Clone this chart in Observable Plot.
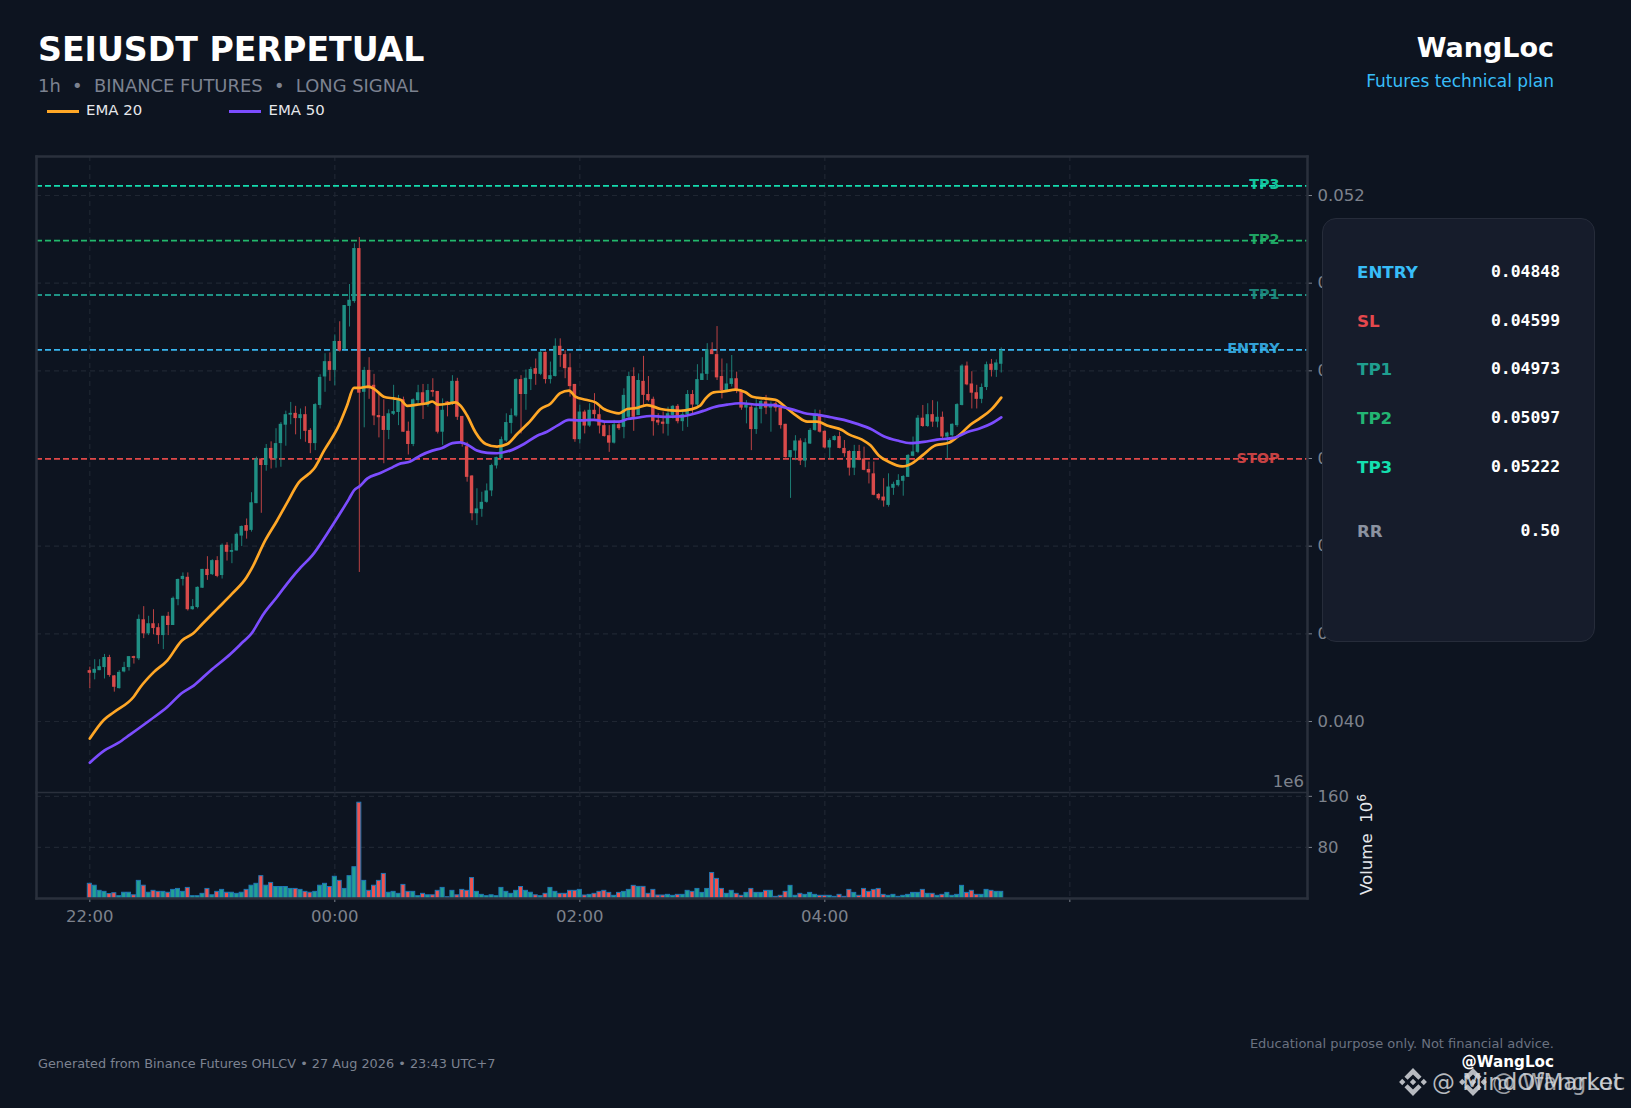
<!DOCTYPE html>
<html>
<head>
<meta charset="utf-8">
<script src="https://cdn.jsdelivr.net/npm/d3@7"></script>
<script src="https://cdn.jsdelivr.net/npm/@observablehq/plot@0.6"></script>
<style>
html,body{margin:0;padding:0;background:#0d1420;}
body{position:relative;width:1631px;height:1108px;overflow:hidden;font-family:"DejaVu Sans",sans-serif;}
.t{position:absolute;white-space:pre;line-height:1;transform:translateY(-50%);}
.r{text-align:right;}
svg{position:absolute;left:0;overflow:visible;}
#panel{position:absolute;left:1322px;top:217.5px;width:273px;height:424px;background:#161c2b;border:1.5px solid #262c3a;border-radius:14px;box-sizing:border-box;}
</style>
</head>
<body>
<div id="root"></div>
<script>
// prices are given in units of 0.00001 USDT, volume in millions
const priceUnit = 1e-5;
const open = [4116,4110,4116,4123,4146,4104,4075,4113,4123,4148,
4143,4232,4200,4223,4214,4196,4240,4219,4278,4324,
4329,4255,4260,4304,4347,4335,4367,4333,4402,4386,
4389,4423,4447,4436,4497,4599,4584,4623,4599,4634,
4676,4699,4703,4691,4700,4664,4634,4721,4786,4821,
4801,4867,4849,4947,4958,5079,4751,4801,4767,4698,
4696,4664,4701,4705,4734,4662,4632,4732,4750,4721,
4755,4753,4660,4729,4725,4776,4696,4627,4560,4474,
4484,4500,4526,4583,4600,4640,4680,4697,4780,4746,
4780,4805,4792,4842,4780,4787,4856,4837,4807,4769,
4643,4706,4674,4710,4700,4675,4652,4635,4677,4671,
4694,4787,4698,4776,4746,4735,4687,4683,4678,4698,
4719,4684,4700,4746,4722,4778,4792,4848,4837,4787,
4755,4769,4782,4755,4715,4717,4666,4712,4729,4715,
4725,4715,4678,4602,4617,4640,4594,4633,4664,4698,
4662,4624,4641,4650,4623,4616,4578,4616,4599,4575,
4565,4518,4512,4493,4532,4538,4548,4557,4605,4614,
4692,4673,4700,4683,4694,4649,4652,4675,4721,4811,
4770,4750,4735,4762,4815,4801,4815];
const high = [4124,4141,4141,4153,4151,4105,4116,4135,4148,4149,
4243,4262,4240,4255,4223,4240,4249,4284,4325,4339,
4339,4278,4307,4347,4376,4369,4376,4405,4408,4405,
4430,4446,4462,4522,4603,4600,4632,4638,4668,4682,
4708,4728,4719,4713,4718,4668,4725,4791,4839,4841,
4882,4912,4949,4997,5090,5104,4808,4830,4792,4748,
4734,4711,4767,4744,4740,4683,4736,4767,4769,4769,
4782,4753,4736,4730,4789,4783,4696,4637,4561,4531,
4523,4542,4587,4603,4649,4702,4713,4782,4789,4802,
4808,4827,4845,4843,4820,4873,4873,4846,4839,4769,
4722,4710,4725,4748,4721,4683,4675,4687,4681,4759,
4797,4807,4793,4833,4787,4740,4702,4706,4717,4721,
4723,4710,4755,4755,4814,4830,4862,4864,4901,4827,
4816,4835,4797,4756,4732,4725,4734,4732,4744,4729,
4729,4716,4678,4618,4652,4645,4645,4668,4711,4710,
4663,4645,4652,4660,4641,4618,4630,4630,4626,4592,
4592,4520,4554,4565,4546,4563,4561,4609,4649,4698,
4721,4725,4732,4729,4706,4660,4679,4725,4814,4820,
4798,4767,4770,4820,4826,4825,4852];
const low = [4075,4095,4116,4097,4101,4067,4074,4111,4115,4131,
4139,4189,4196,4198,4176,4164,4196,4219,4264,4309,
4252,4254,4257,4304,4322,4333,4328,4325,4366,4360,
4389,4399,4416,4432,4497,4475,4571,4576,4578,4580,
4628,4677,4654,4643,4637,4611,4618,4713,4751,4776,
4766,4843,4848,4900,4954,4340,4670,4735,4675,4647,
4588,4643,4698,4675,4660,4608,4627,4721,4689,4717,
4740,4656,4630,4695,4721,4687,4626,4546,4458,4447,
4466,4498,4513,4576,4599,4637,4656,4694,4656,4710,
4755,4767,4789,4770,4770,4786,4808,4782,4740,4637,
4633,4656,4671,4690,4656,4649,4614,4633,4664,4645,
4690,4662,4698,4721,4729,4651,4675,4656,4651,4690,
4679,4662,4671,4702,4717,4778,4778,4837,4778,4736,
4755,4763,4748,4710,4679,4618,4655,4679,4700,4660,
4706,4667,4601,4509,4595,4584,4579,4632,4662,4658,
4622,4599,4640,4622,4603,4560,4561,4595,4572,4542,
4515,4504,4489,4489,4516,4535,4514,4557,4604,4611,
4671,4671,4671,4670,4645,4599,4649,4671,4720,4766,
4713,4713,4725,4755,4786,4785,4795];
const close = [4110,4119,4125,4146,4105,4078,4112,4123,4148,4144,
4233,4200,4223,4212,4196,4240,4219,4281,4324,4331,
4255,4262,4306,4347,4333,4367,4331,4402,4386,4390,
4427,4445,4434,4499,4599,4584,4623,4599,4634,4678,
4700,4703,4691,4700,4662,4634,4723,4785,4821,4801,
4867,4845,4949,4961,5079,4749,4801,4759,4697,4693,
4664,4702,4707,4734,4660,4632,4734,4750,4721,4755,
4751,4660,4710,4721,4776,4694,4637,4557,4474,4485,
4500,4526,4584,4602,4643,4682,4698,4780,4746,4783,
4803,4792,4842,4780,4789,4856,4835,4805,4764,4643,
4706,4674,4710,4700,4674,4650,4635,4677,4668,4744,
4787,4694,4778,4744,4732,4684,4681,4678,4702,4719,
4684,4700,4746,4722,4780,4793,4848,4837,4784,4755,
4770,4782,4755,4715,4722,4666,4715,4730,4715,4721,
4715,4675,4602,4618,4640,4594,4636,4664,4700,4660,
4624,4641,4650,4623,4611,4578,4616,4596,4573,4567,
4516,4508,4503,4535,4541,4550,4559,4607,4615,4692,
4673,4700,4683,4694,4649,4658,4678,4723,4811,4768,
4749,4735,4762,4814,4801,4818,4846];
const volume = [23,20,12,10.4,7,8.3,3.6,9,9,5,
27.6,20,9,12,10.4,10.4,9,13.5,15,10.4,
16.6,3.6,3.6,7.3,15,5,10.4,13.5,9,9,
7.3,9,13.5,20,23,35,20,24.4,18,18,
18,15,15,13.5,10.4,9,10.4,20,23,18,
34,27.6,15,35,49,150,27.6,12,20,27.6,
38.5,9,10.4,7.3,21.3,10.4,10.4,3.6,7.3,5,
5,12,16.6,2,12,5,13.5,12,32,10.4,
5.7,3.6,5,3.6,16.6,10.4,7.3,12,18,12,
9,5,3.6,7.3,16.6,10.4,7.3,7.3,12,12,
13.5,4.7,5.7,7.3,10.4,12,8.8,4.2,8.8,10.4,
13.5,19.8,18.2,18.2,7.3,13.5,4.7,4.7,5.7,4.2,
5.7,5.7,12,10.4,15,8.8,15,40,30.7,15,
7.3,12,7.3,4.2,8.8,15,8.8,8.8,12,12,
2.6,4.2,10.4,19.8,4.2,7.3,5.7,8.8,5.7,4.2,
4.2,4.2,2.6,5.7,2.6,13.5,8.8,4.2,15,10.4,
13.5,15,5.7,4.2,5.7,2.6,4.2,5.7,8.8,8.8,
13.5,7.3,7.3,4.2,5.7,8.8,4.2,5.7,19.8,8.8,
12,5.7,5.7,13.5,12,10.4,10.4];

const ema20Index = [0,2.9,4.9,9,10.3,13,15.8,18.8,21,23,26,29,32,33,35.8,38.2,40.3,42.7,44.7,45.7,47.8,50.8,52.5,53.9,54.9,56.9,58,60,62,63.4,64.8,66.8,68.8,69.9,71,73,74.6,75.6,77,78.7,80.8,83.1,85.2,87.2,90,92,94,96,97.8,99.1,101.2,103.2,104.9,106.6,108,109.7,111.4,113.7,116.5,118.5,120.5,122.6,124.6,125.6,127.3,129.4,131.8,133.8,135.2,137.6,139.9,142,144.4,146.4,148.4,150.8,153.5,154.9,157.6,159.3,161,163.1,165.8,167.8,169.9,172.6,175.3,177.7,179.7,181.7,184,186];
const ema20 = [3961,4004,4021,4057,4078,4112,4139,4185,4200,4223,4257,4291,4329,4348,4413,4458,4500,4546,4565,4576,4618,4675,4721,4761,4761,4764,4759,4741,4737,4734,4720,4723,4726,4730,4723,4725,4728,4721,4698,4660,4633,4627,4633,4656,4687,4713,4725,4749,4755,4741,4734,4728,4713,4706,4703,4713,4715,4722,4713,4710,4709,4712,4721,4736,4751,4753,4757,4751,4741,4737,4734,4717,4696,4684,4684,4674,4665,4655,4643,4630,4607,4592,4582,4589,4607,4630,4636,4656,4677,4692,4712,4739];
const ema50Index = [0,3,5.8,8.2,12.4,15.8,18.8,21.2,24.6,28.7,31.4,32.8,35.5,38.2,41,43,45.4,48.4,50.8,52.9,53.9,55.1,56.6,59.3,61.4,63,65.4,67.5,69.9,71.9,74,75.6,77.3,79,81.1,83.1,85.8,88.6,91.3,93.3,95.4,97.8,100.1,102.8,105.6,108,109.7,111.7,114.4,117.1,120.6,123.3,125.3,127.3,130.1,132.8,136.2,139.6,141.6,143.7,146.4,148.4,151.2,153.9,156.6,159.3,162,164.8,167.5,170.2,172.9,176.3,179,181.7,184,186];
const ema50 = [3906,3934,3951,3970,4004,4033,4065,4082,4116,4154,4183,4198,4246,4284,4325,4351,4379,4428,4470,4508,4527,4537,4554,4567,4578,4587,4593,4607,4618,4624,4635,4637,4630,4618,4613,4612,4618,4633,4652,4661,4675,4688,4687,4688,4684,4684,4690,4693,4697,4695,4696,4702,4709,4717,4723,4726,4723,4722,4717,4711,4702,4700,4694,4688,4679,4668,4651,4641,4635,4638,4643,4647,4660,4669,4680,4694];

const levelNames = ["TP3","TP2","TP1","ENTRY","STOP"];
const levelValues = [0.05222,0.05097,0.04973,0.04848,0.04599];
const levelColors = ["#14dcae","#22b86c","#1f9385","#38b6f0","#e04848"];

const timeTicks = [0,50,100,150,200];
const timeLabels = ["22:00","00:00","02:00","04:00",""];
const priceTicks = [0.040,0.042,0.044,0.046,0.048,0.050,0.052];
const volumeTicks = [80,160];

const planLabels = ["ENTRY","SL","TP1","TP2","TP3","RR"];
const planValues = ["0.04848","0.04599","0.04973","0.05097","0.05222","0.50"];
const planColors = ["#38bdf8","#e5484d","#1f9e8f","#22b573","#14e0b0","#8b92a0"];
const planRows = [272,321,369,418,467,531];

const UP="#1f8f84", DOWN="#d94a4a", UPV="#22a195", DOWNV="#ef5350";
const GRID="#1f2632", AXIS="#7d828c", FRAME="#2a303c";
const candles = open.map((o,i)=>({i,open:o*priceUnit,high:high[i]*priceUnit,low:low[i]*priceUnit,close:close[i]*priceUnit,volume:volume[i],up:close[i]>=o}));
const line20 = ema20.map((v,k)=>({i:ema20Index[k],v:v*priceUnit}));
const line50 = ema50.map((v,k)=>({i:ema50Index[k],v:v*priceUnit}));
const levels = levelNames.map((n,k)=>({n,v:levelValues[k],c:levelColors[k]}));

const xDomain=[-10.88,248.5];
const common={width:1631,marginLeft:36,marginRight:324,style:{background:"transparent",fontFamily:"DejaVu Sans",fontSize:"16.5px",color:AXIS}};

const priceChart = Plot.plot({...common,height:800,marginTop:156,marginBottom:8,
  x:{domain:xDomain,axis:null},
  y:{domain:[0.03838,0.05289],axis:null},
  marks:[
    Plot.ruleX(timeTicks,{stroke:GRID,strokeWidth:1.2,strokeDasharray:"5,4"}),
    Plot.ruleY(priceTicks,{stroke:GRID,strokeWidth:1.2,strokeDasharray:"5,4"}),
    Plot.ruleY(levels,{y:"v",stroke:"c",strokeWidth:1.8,strokeDasharray:"6,3"}),
    Plot.ruleX(candles,{x:"i",y1:"low",y2:"high",stroke:d=>d.up?UP:DOWN,strokeWidth:1,strokeOpacity:.85}),
    Plot.rect(candles,{x1:d=>d.i-.35,x2:d=>d.i+.35,y1:"open",y2:"close",fill:d=>d.up?UP:DOWN}),
    Plot.line(line20,{x:"i",y:"v",stroke:"#ffa726",strokeWidth:2.7,curve:"monotone-x"}),
    Plot.line(line50,{x:"i",y:"v",stroke:"#7c4dff",strokeWidth:2.7,curve:"monotone-x"}),
    Plot.text(levels,{x:()=>242.8,y:"v",text:"n",fill:"c",textAnchor:"end",fontWeight:"bold",fontSize:14.4,dy:-1,fillOpacity:.9}),
    Plot.axisY(priceTicks,{anchor:"right",tickSize:4,tickPadding:6,tickFormat:d3.format(".3f"),color:AXIS,label:null,textStroke:"none"}),
    ...["top","left","right"].map(anchor=>Plot.frame({anchor,stroke:FRAME,strokeWidth:2.5})),
    Plot.frame({anchor:"bottom",stroke:FRAME,strokeWidth:1.5})
  ]});
priceChart.style.top="0px";

const volumeChart = Plot.plot({...common,height:146,marginTop:0,marginBottom:40,
  x:{domain:xDomain,axis:null},
  y:{domain:[0,166],axis:null},
  marks:[
    Plot.ruleX(timeTicks,{stroke:GRID,strokeWidth:1.2,strokeDasharray:"5,4"}),
    Plot.ruleY(volumeTicks,{stroke:GRID,strokeWidth:1.2,strokeDasharray:"5,4"}),
    Plot.rect(candles,{x1:d=>d.i-.41,x2:d=>d.i+.41,y1:0,y2:"volume",fill:d=>d.up?UPV:DOWNV,stroke:"#1f77b4",strokeWidth:1}),
    Plot.axisY(volumeTicks,{anchor:"right",tickSize:4,tickPadding:6,color:AXIS,label:null}),
    Plot.axisX(timeTicks,{anchor:"bottom",tickSize:4,tickPadding:8,tickFormat:d=>timeLabels[timeTicks.indexOf(d)],color:AXIS,label:null}),
    ...["bottom","left","right"].map(anchor=>Plot.frame({anchor,stroke:FRAME,strokeWidth:2.5}))
  ]});
volumeChart.style.top="792px";

const root=document.getElementById("root");
root.append(priceChart,volumeChart);

function txt(s,o){const e=document.createElement("div");e.className="t"+(o.right!=null?" r":"");e.textContent=s;
  e.style.top=o.y+"px";if(o.right!=null)e.style.right=(1631-o.right)+"px";else e.style.left=o.x+"px";
  e.style.fontSize=o.size+"px";e.style.color=o.color;if(o.bold)e.style.fontWeight="bold";if(o.family)e.style.fontFamily=o.family;
  if(o.opacity)e.style.opacity=o.opacity;if(o.rotate){e.style.transformOrigin="left center";e.style.transform="translateY(-50%) rotate(-90deg)";}
  document.body.append(e);return e;}

txt("SEIUSDT PERPETUAL",{x:38,y:50,size:33.2,color:"#ffffff",bold:true});
txt("1h  \u2022  BINANCE FUTURES  \u2022  LONG SIGNAL",{x:38,y:86,size:17.9,color:"#7c8290"});
txt("EMA 20",{x:86,y:110,size:14.9,color:"#e6e8ec"});
txt("EMA 50",{x:268.5,y:110,size:14.9,color:"#e6e8ec"});
function swatch(x,c){const e=document.createElement("div");e.style.cssText=`position:absolute;left:${x}px;top:109.5px;width:32px;height:3px;background:${c}`;document.body.append(e);}
swatch(47,"#ffa726");swatch(229,"#7c4dff");
txt("WangLoc",{right:1554,y:47,size:27,color:"#ffffff",bold:true});
txt("Futures technical plan",{right:1554,y:80.5,size:17,color:"#38bdf8"});
txt("1e6",{right:1304,y:782,size:16.5,color:AXIS});
const volLabel=txt("Volume  10",{x:1367,y:895,size:16.6,color:"#e6e8ec",rotate:true});
volLabel.innerHTML='Volume  10<span style="font-size:.7em;position:relative;top:-.55em">6</span>';
txt("Generated from Binance Futures OHLCV \u2022 27 Aug 2026 \u2022 23:43 UTC+7",{x:38,y:1064,size:12.85,color:"#7c8290"});
txt("Educational purpose only. Not financial advice.",{right:1554,y:1043,size:13,color:"#6b7280"});
txt("@WangLoc",{right:1554,y:1063,size:15.2,color:"#ffffff",bold:true});

const panel=document.createElement("div");panel.id="panel";document.body.append(panel);
planLabels.forEach((l,k)=>{
  txt(l,{x:1357,y:planRows[k],size:16.7,color:planColors[k],bold:true}).style.zIndex=3;
  txt(planValues[k],{right:1560,y:planRows[k],size:16.4,color:"#ffffff",bold:true,family:"DejaVu Sans Mono"}).style.zIndex=3;
});

// binance watermark
function logo(x){const ns="http://www.w3.org/2000/svg";const s=document.createElementNS(ns,"svg");
  s.setAttribute("width",28);s.setAttribute("height",28);s.setAttribute("viewBox","0 0 126 126");
  s.style.cssText=`position:absolute;left:${x}px;top:1068px;opacity:.85`;
  s.innerHTML='<path fill="#d5d8dc" d="M38.7 53 63 28.7 87.3 53l14.2-14.1L63 .4 24.5 38.9zM.4 63 14.500 48.900 28.700 63 14.500 77.100zM38.700 73 63 97.300 87.300 73l14.200 14.100L63 125.600 24.500 87.100zM97.300 63l14.200-14.100L125.600 63l-14.100 14.100zM77.400 63 63 48.600 52.400 59.200l-1.200 1.200L48.600 63 63 77.400z"/>';
  document.body.append(s);}
logo(1399);logo(1459);
txt("@ MindOfMarket",{x:1432,y:1082,size:22.9,color:"#d5d8dc",opacity:.85});
txt("@ WangLoc",{x:1492,y:1082,size:22.9,color:"#d5d8dc",opacity:.7});
</script>
</body>
</html>
